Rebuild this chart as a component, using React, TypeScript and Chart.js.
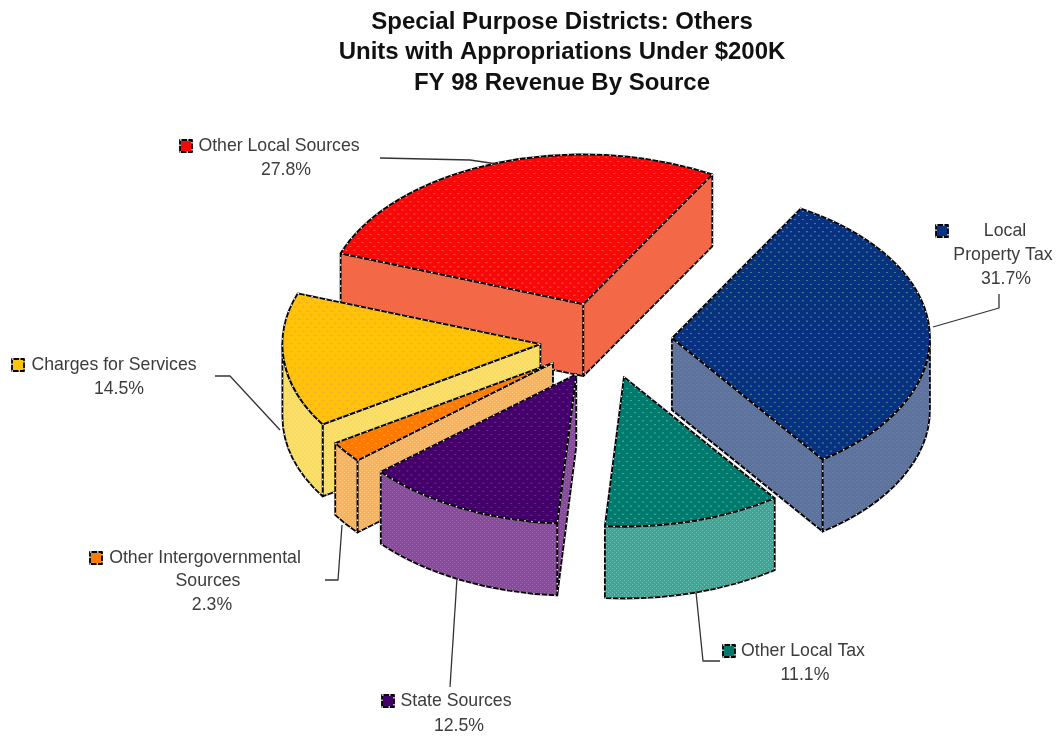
import React, { useEffect, useRef } from "react";
import { Chart, registerables } from "chart.js";

Chart.register(...registerables);

// Revenue shares by source, percent
const sources = [
  "Local Property Tax",
  "Other Local Tax",
  "State Sources",
  "Other Intergovernmental Sources",
  "Charges for Services",
  "Other Local Sources",
];
const shares = [31.7, 11.1, 12.5, 2.3, 14.5, 27.8];

const titleLines = [
  "Special Purpose Districts: Others",
  "Units with Appropriations Under $200K",
  "FY 98 Revenue By Source",
];

const labelLines = [
  ["Local", "Property Tax"],
  ["Other Local Tax"],
  ["State Sources"],
  ["Other Intergovernmental", "Sources"],
  ["Charges for Services"],
  ["Other Local Sources"],
];

const topColors = ["#08327f", "#007a6c", "#43006b", "#ff7a00", "#ffc408", "#f80808"];
const topDots = ["#3f7f90", "#30b0a0", "#7a2090", "#ff9a30", "#ff9a40", "#ff5030"];
const wallColors = ["#58749f", "#43a296", "#874a9c", "#ffb058", "#ffdc58", "#f46a48"];
const wallDots = ["#6f7fa8", "#70c8b8", "#a06ab0", "#ffc880", "#ffe880", "#ee6440"];

// Label placement: swatch centre, a [centre x, middle y] for each text row, leader polyline
const labelSwatches = [[942, 231], [729, 651], [388, 701], [96, 558], [18, 365], [186, 146]];
const labelRows = [
  [[1005, 231], [1003, 255], [1006, 279]],
  [[803, 651], [805, 675]],
  [[456, 701], [459, 726]],
  [[205, 558], [208, 581], [212, 605]],
  [[114, 365], [119, 389]],
  [[279, 146], [286, 170]],
];
const leaders = [
  [[999, 294], [999, 308], [933, 327]],
  [[696, 592], [703, 661], [720, 661]],
  [[450, 687], [457, 578]],
  [[325, 580], [338, 580], [342, 525]],
  [[215, 376], [230, 376], [280, 430]],
  [[380, 158], [470, 160], [497, 164]],
];

// Pie geometry on the page
const PIE_X = 606;
const PIE_Y = 340;
const RADIUS = 258;
const SQUASH = 0.58;
const EXPLODE = 66;
const DEPTH = 72;
const START_ROTATION = 30;
const PAINT_ORDER = [5, 4, 3, 2, 1, 0];

function makeDotPattern(
  ctx: CanvasRenderingContext2D,
  base: string,
  dot: string,
  w: number,
  h: number,
  size: number
) {
  const tile = document.createElement("canvas");
  tile.width = w;
  tile.height = h;
  const t = tile.getContext("2d")!;
  t.fillStyle = base;
  t.fillRect(0, 0, w, h);
  t.fillStyle = dot;
  t.fillRect(0, 0, size, size);
  t.fillRect(Math.floor(w / 2), Math.floor(h / 2), size, size);
  return ctx.createPattern(tile, "repeat")!;
}

function strokeEdge(ctx: CanvasRenderingContext2D) {
  ctx.setLineDash([]);
  ctx.strokeStyle = "#000";
  ctx.lineWidth = 1.8;
  ctx.stroke();
  ctx.setLineDash([1.5, 5.5]);
  ctx.strokeStyle = "#fff";
  ctx.lineWidth = 1.4;
  ctx.stroke();
  ctx.setLineDash([]);
}

// Extrudes each exploded arc downwards and paints it back to front
function paintSlices(chart: any, wallFills: CanvasPattern[]) {
  const ctx: CanvasRenderingContext2D = chart.ctx;
  const arcs = chart.getDatasetMeta(0).data;
  ctx.lineJoin = "round";
  for (const i of PAINT_ORDER) {
    const arc = arcs[i];
    const a1: number = arc.startAngle;
    const a2: number = arc.endAngle;
    const mid = (a1 + a2) / 2;
    const r: number = arc.outerRadius;
    const ax = PIE_X + EXPLODE * Math.cos(mid);
    const ay = PIE_Y + EXPLODE * Math.sin(mid) * SQUASH;
    const px = (a: number) => ax + r * Math.cos(a);
    const py = (a: number) => ay + r * Math.sin(a) * SQUASH;

    ctx.fillStyle = wallFills[i];
    const radialWall = (a: number) => {
      ctx.beginPath();
      ctx.moveTo(ax, ay);
      ctx.lineTo(px(a), py(a));
      ctx.lineTo(px(a), py(a) + DEPTH);
      ctx.lineTo(ax, ay + DEPTH);
      ctx.closePath();
      ctx.fill();
      strokeEdge(ctx);
    };
    if (Math.cos(a1) < 0) radialWall(a1);
    if (Math.cos(a2) > 0) radialWall(a2);

    const from = Math.max(a1, 0);
    const to = Math.min(a2, Math.PI);
    if (to > from) {
      ctx.beginPath();
      ctx.ellipse(ax, ay, r, r * SQUASH, 0, from, to);
      ctx.lineTo(px(to), py(to) + DEPTH);
      ctx.ellipse(ax, ay + DEPTH, r, r * SQUASH, 0, to, from, true);
      ctx.closePath();
      ctx.fill();
      strokeEdge(ctx);
    }

    ctx.save();
    ctx.translate(ax, ay);
    ctx.scale(1, SQUASH);
    ctx.translate(-arc.x, -arc.y);
    arc.draw(ctx);
    ctx.restore();

    ctx.beginPath();
    ctx.moveTo(ax, ay);
    ctx.ellipse(ax, ay, r, r * SQUASH, 0, a1, a2);
    ctx.closePath();
    strokeEdge(ctx);
  }
}

function paintLabels(chart: any) {
  const ctx: CanvasRenderingContext2D = chart.ctx;
  ctx.save();
  ctx.strokeStyle = "#333";
  ctx.lineWidth = 1.3;
  for (const line of leaders) {
    ctx.beginPath();
    line.forEach(([x, y], k) => (k ? ctx.lineTo(x, y) : ctx.moveTo(x, y)));
    ctx.stroke();
  }
  ctx.font = '17.7px "Liberation Sans"';
  ctx.textAlign = "center";
  ctx.textBaseline = "middle";
  sources.forEach((_, i) => {
    const [sx, sy] = labelSwatches[i];
    ctx.fillStyle = topColors[i];
    ctx.fillRect(sx - 6, sy - 6, 12, 12);
    ctx.beginPath();
    ctx.rect(sx - 6, sy - 6, 12, 12);
    strokeEdge(ctx);
    const rows = [...labelLines[i], `${shares[i].toFixed(1)}%`];
    ctx.fillStyle = "#3c3c3c";
    rows.forEach((text, k) => ctx.fillText(text, labelRows[i][k][0], labelRows[i][k][1]));
  });
  ctx.restore();
}

export default function App() {
  const canvasRef = useRef<HTMLCanvasElement | null>(null);

  useEffect(() => {
    const canvas = canvasRef.current!;
    const ctx = canvas.getContext("2d")!;
    const topFills = topColors.map((c, i) =>
      makeDotPattern(ctx, c, topDots[i], 8, 14, 2)
    );
    const wallFills = wallColors.map((c, i) =>
      makeDotPattern(ctx, c, wallDots[i], 4, 4, 1)
    );
    const chart = new Chart(canvas, {
      type: "pie",
      data: {
        labels: sources,
        datasets: [{ data: shares, backgroundColor: topFills, borderWidth: 0 }],
      },
      options: {
        responsive: false,
        animation: false,
        events: [],
        rotation: START_ROTATION,
        radius: RADIUS,
        layout: { padding: { left: 67 } },
        plugins: {
          legend: { display: false },
          tooltip: { enabled: false },
          title: {
            display: true,
            text: titleLines,
            color: "#111",
            font: { family: '"Liberation Sans"', size: 24, weight: "bold", lineHeight: 1.27 },
            padding: { top: 7, bottom: 10 },
          },
        },
      },
      plugins: [
        {
          id: "exploded3d",
          beforeDatasetDraw(c: any) {
            paintSlices(c, wallFills);
            return false;
          },
          afterDraw(c: any) {
            paintLabels(c);
          },
        },
      ],
    } as any);
    return () => chart.destroy();
  }, []);

  return (
    <div style={{ position: "absolute", left: 0, top: 0, width: 1057, height: 736, background: "#fff" }}>
      <canvas ref={canvasRef} width={1057} height={736} style={{ display: "block" }} />
    </div>
  );
}
